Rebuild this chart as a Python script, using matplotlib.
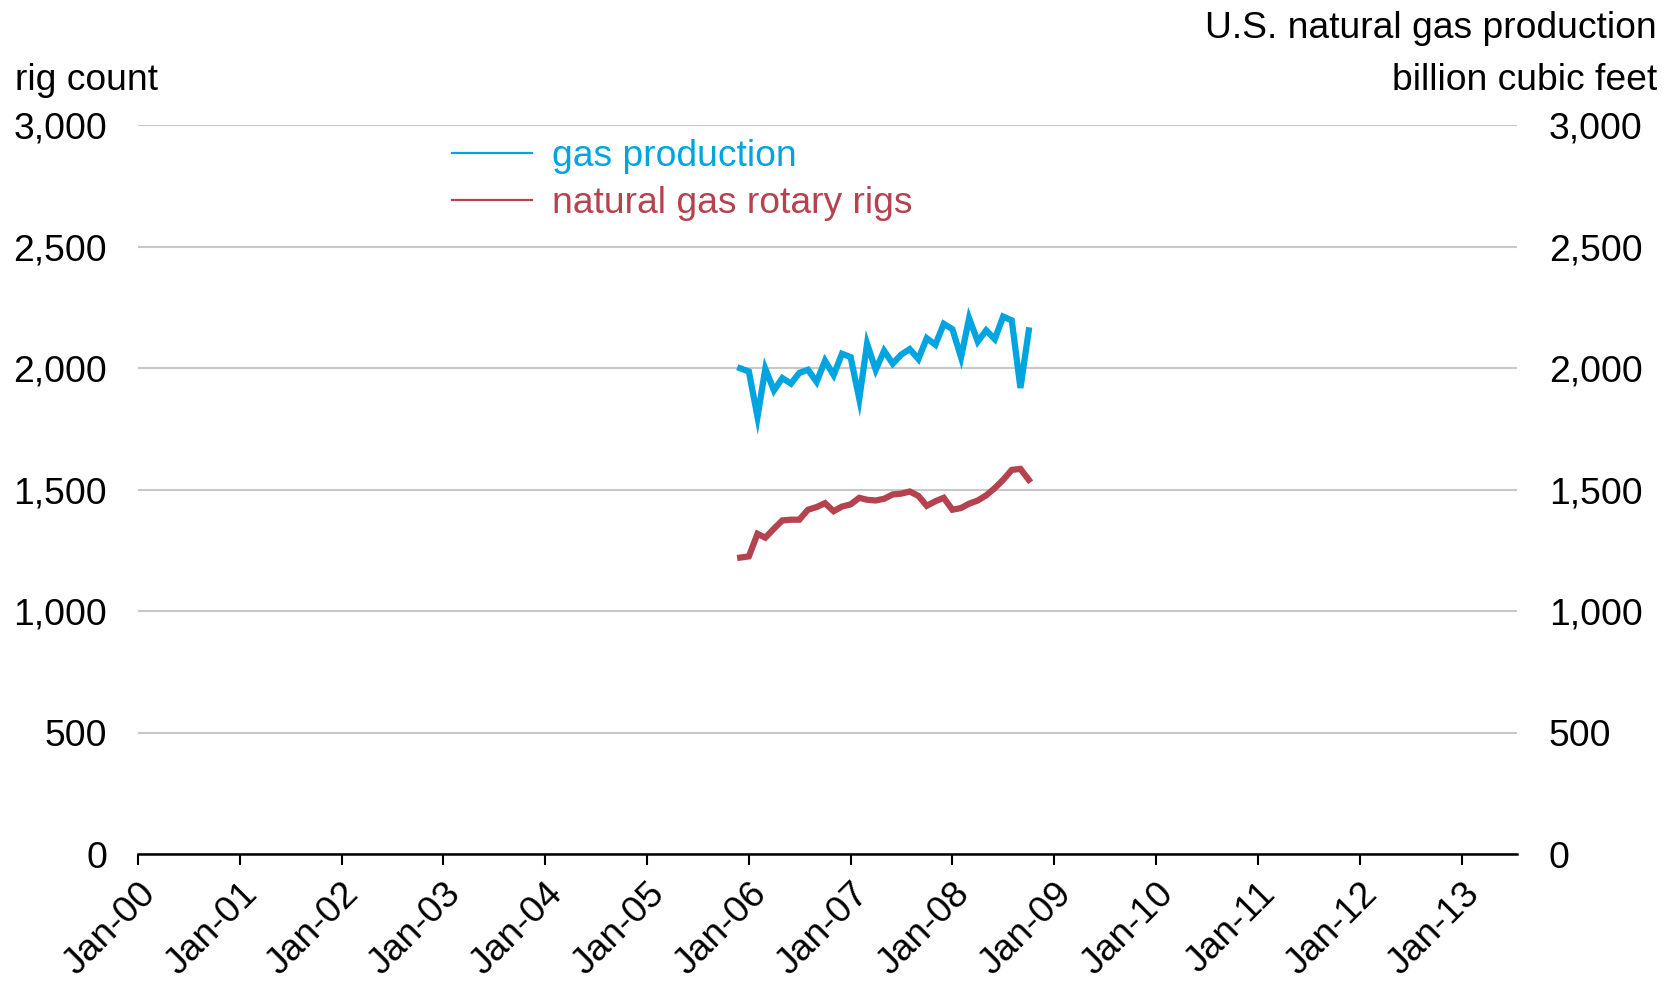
import matplotlib
matplotlib.use("Agg")
import matplotlib.pyplot as plt
from matplotlib.lines import Line2D
import pandas as pd

plt.rcParams['font.family'] = ['Liberation Sans', 'DejaVu Sans']

months = pd.date_range("2005-12-01", "2008-10-01", freq="MS")
gas_production = [2000, 1987, 1800, 1998, 1909, 1960, 1937, 1981, 1994, 1944,
                  2031, 1972, 2060, 2046, 1874, 2101, 1994, 2072, 2019, 2056,
                  2079, 2038, 2124, 2097, 2183, 2161, 2045, 2206, 2110, 2156,
                  2120, 2213, 2197, 1919, 2156]
rotary_rigs = [1221, 1226, 1319, 1303, 1340, 1374, 1377, 1377, 1418, 1429,
               1445, 1412, 1431, 1440, 1467, 1459, 1456, 1463, 1481, 1484,
               1493, 1475, 1434, 1453, 1467, 1418, 1425, 1443, 1456, 1477,
               1507, 1541, 1582, 1586, 1541]
yticks = [0, 500, 1000, 1500, 2000, 2500, 3000]
xtick_years = list(range(2000, 2014))

BLUE = '#00a5df'
RED = '#b5434f'
FS = 26.8

fig = plt.figure(figsize=(16.75, 9.84), dpi=100)
ax = fig.add_axes([137.7/1675, 1-854.3/984, (1517-137.7)/1675, (854.3-125.3)/984])

ax.plot(months, gas_production, color=BLUE, lw=4.5, solid_joinstyle='miter', zorder=3)
ax.plot(months, rotary_rigs, color=RED, lw=4.5, solid_joinstyle='miter', zorder=3)

ax.set_ylim(0, 3000)
ax.set_xlim(pd.Timestamp("2000-01-01"), pd.Timestamp("2013-07-18"))
ax.set_yticks(yticks)
ax.set_yticklabels([f"{v:,}" for v in yticks], fontsize=FS)
ax.yaxis.grid(True, color='#c8c8c8', lw=1.5)
ax.set_axisbelow(True)
ax.tick_params(axis='y', length=0, pad=22)

xt = [pd.Timestamp(f"{y}-01-01") for y in xtick_years]
ax.set_xticks(xt)
ax.set_xticklabels([f"Jan-{y % 100:02d}" for y in xtick_years], fontsize=FS,
                   rotation=45, ha='right', rotation_mode='anchor')
ax.tick_params(axis='x', length=8, width=1.5, direction='out', pad=8, color='black')

for s in ['top', 'right', 'left']:
    ax.spines[s].set_visible(False)
ax.spines['bottom'].set_linewidth(1.8)
ax.spines['bottom'].set_color('black')

ax2 = ax.twinx()
ax2.set_ylim(0, 3000)
ax2.set_yticks(yticks)
ax2.set_yticklabels([f"{v:,}" for v in yticks], fontsize=FS)
ax2.tick_params(axis='y', length=0, pad=23)
for s in ['top', 'right', 'left', 'bottom']:
    ax2.spines[s].set_visible(False)

fig.text(15/1675, 1-80.5/984, "rig count", fontsize=FS, ha='left', va='center')
fig.text(1657/1675, 1-28.5/984, "U.S. natural gas production", fontsize=FS, ha='right', va='center')
fig.text(1657/1675, 1-80.5/984, "billion cubic feet", fontsize=FS, ha='right', va='center')

handles = [Line2D([], [], color=BLUE, lw=1.6), Line2D([], [], color=RED, lw=1.6)]
leg = fig.legend(handles, ["gas production", "natural gas rotary rigs"],
                 loc='upper left', bbox_to_anchor=(452/1675, 1-139.5/984),
                 frameon=False, fontsize=FS, handlelength=2.15, handletextpad=0.53,
                 labelspacing=0.3, borderaxespad=0, borderpad=0)
for t, c in zip(leg.get_texts(), [BLUE, RED]):
    t.set_color(c)

fig.savefig("out.png", dpi=100)
